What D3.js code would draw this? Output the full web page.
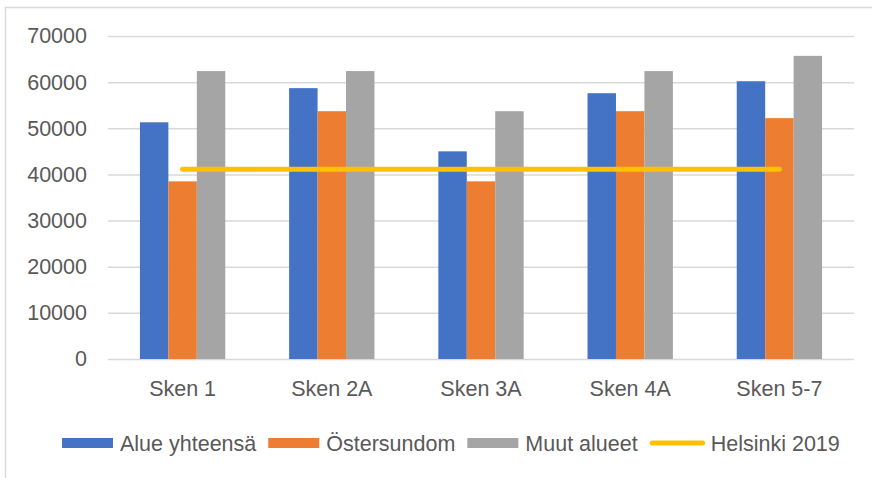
<!DOCTYPE html>
<html>
<head>
<meta charset="utf-8">
<script src="https://cdn.jsdelivr.net/npm/d3@7"></script>
<style>
  html, body { margin: 0; padding: 0; background: #ffffff; }
  svg { display: block; }
  text { font-family: "Liberation Sans", Arial, sans-serif; fill: #595959; }
</style>
</head>
<body>
<svg id="chart" width="872" height="478"></svg>
<script>
// ---- data ----
const categories = ["Sken 1", "Sken 2A", "Sken 3A", "Sken 4A", "Sken 5-7"];
const alueYhteensa = [51300, 58700, 45000, 57600, 60200];
const ostersundom  = [38500, 53700, 38500, 53700, 52200];
const muutAlueet   = [62400, 62400, 53700, 62400, 65700];
const helsinki2019 = [41100, 41100, 41100, 41100, 41100];
const yTicks = [0, 10000, 20000, 30000, 40000, 50000, 60000, 70000];
const seriesNames = ["Alue yhteensä", "Östersundom", "Muut alueet", "Helsinki 2019"];

const barSeries = [
  { name: seriesNames[0], values: alueYhteensa, color: "#4472C4" },
  { name: seriesNames[1], values: ostersundom,  color: "#ED7D31" },
  { name: seriesNames[2], values: muutAlueet,   color: "#A5A5A5" }
];
const lineColor = "#FFC000";

// ---- layout ----
const svg = d3.select("#chart");
const plot = { left: 108, right: 854, top: 36, bottom: 359 };

// frame
svg.append("rect")
  .attr("x", 5.5).attr("y", 7.5)
  .attr("width", 900).attr("height", 500)
  .attr("fill", "none").attr("stroke", "#d9d9d9").attr("stroke-width", 1.5);

const x = d3.scaleBand()
  .domain(categories)
  .range([plot.left, plot.right])
  .paddingInner(0.428)
  .paddingOuter(0.214);

const xInner = d3.scaleBand()
  .domain(barSeries.map(s => s.name))
  .range([0, x.bandwidth()])
  .padding(0);

const y = d3.scaleLinear().domain([0, 70000]).range([plot.bottom, plot.top]);

// gridlines + y labels
const yAxis = d3.axisLeft(y)
  .tickValues(yTicks)
  .tickSize(-(plot.right - plot.left))
  .tickPadding(21)
  .tickFormat(d3.format("d"));

const gy = svg.append("g")
  .attr("transform", `translate(${plot.left},0)`)
  .call(yAxis);
gy.select(".domain").remove();
gy.selectAll(".tick line").attr("stroke", "#d9d9d9").attr("stroke-width", 1.5);
gy.selectAll(".tick text")
  .attr("font-size", "21.5px")
  .attr("fill", "#595959")
  .style("font-family", '"Liberation Sans", Arial, sans-serif');

// bars
const groups = svg.append("g").selectAll("g")
  .data(categories)
  .join("g")
  .attr("transform", c => `translate(${x(c)},0)`);

groups.selectAll("rect")
  .data((c, i) => barSeries.map(s => ({ name: s.name, value: s.values[i], color: s.color })))
  .join("rect")
  .attr("x", d => xInner(d.name))
  .attr("width", xInner.bandwidth())
  .attr("y", d => y(d.value))
  .attr("height", d => y(0) - y(d.value))
  .attr("fill", d => d.color);

// line
const line = d3.line()
  .x((d, i) => x(categories[i]) + x.bandwidth() / 2)
  .y(d => y(d));

svg.append("path")
  .datum(helsinki2019)
  .attr("d", line)
  .attr("fill", "none")
  .attr("stroke", lineColor)
  .attr("stroke-width", 5)
  .attr("stroke-linecap", "round");

// x axis labels
const xAxis = d3.axisBottom(x).tickSize(0).tickPadding(22);
const gx = svg.append("g")
  .attr("transform", `translate(0,${plot.bottom})`)
  .call(xAxis);
gx.select(".domain").remove();
gx.selectAll(".tick text")
  .attr("font-size", "21.5px")
  .attr("fill", "#595959")
  .style("font-family", '"Liberation Sans", Arial, sans-serif');

// legend
const legendItems = [
  ...barSeries.map(s => ({ name: s.name, color: s.color, type: "rect" })),
  { name: seriesNames[3], color: lineColor, type: "line" }
];
const legend = svg.append("g");
let lx = 62;
const ly = 443;
legendItems.forEach((it, i) => {
  const g = legend.append("g");
  if (it.type === "rect") {
    g.append("rect").attr("x", lx).attr("y", ly - 5).attr("width", 51).attr("height", 10).attr("fill", it.color);
    lx += 51 + 7;
  } else {
    g.append("line").attr("x1", lx + 2.5).attr("x2", lx + 53).attr("y1", ly).attr("y2", ly)
      .attr("stroke", it.color).attr("stroke-width", 5).attr("stroke-linecap", "round");
    lx += 55 + 6;
  }
  const t = g.append("text")
    .attr("x", lx).attr("y", ly + 7.5)
    .attr("font-size", "21.5px")
    .text(it.name);
  lx += t.node().getComputedTextLength() + 12;
});
</script>
</body>
</html>
